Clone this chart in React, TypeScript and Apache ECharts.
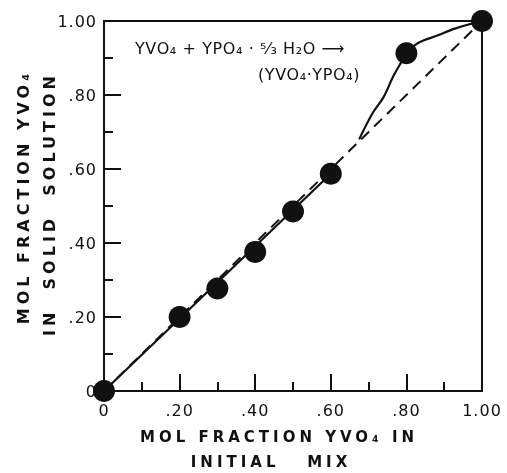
import React, { useEffect, useRef } from 'react';
import * as echarts from 'echarts';

// tick values and labels (both axes)
const tickValues = [0, 0.2, 0.4, 0.6, 0.8, 1.0];
const tickLabels = ['0', '.20', '.40', '.60', '.80', '1.00'];

// measured points: mol fraction in initial mix vs. in solid solution
const pointX = [0, 0.2, 0.3, 0.4, 0.5, 0.6, 0.8, 1.0];
const pointY = [0, 0.2, 0.277, 0.376, 0.485, 0.587, 0.913, 1.0];

// solid curve (lower straight part and upper bend)
const lowerLineX = [0, 0.6];
const lowerLineY = [0, 0.587];
const curveX = [0.675, 0.71, 0.74, 0.765, 0.79, 0.8, 0.83, 0.88, 0.93, 1.0];
const curveY = [0.68, 0.75, 0.795, 0.85, 0.895, 0.913, 0.94, 0.96, 0.98, 1.0];

// ideal (dashed) line
const idealX = [0, 1];
const idealY = [0, 1];

// texts
const yTitleLines = ['MOL FRACTION YVO₄', 'IN  SOLID  SOLUTION'];
const xTitleLines = ['MOL FRACTION YVO₄ IN', 'INITIAL   MIX'];
const annoLines = ['YVO₄ + YPO₄ · ⁵⁄₃ H₂O ⟶', '(YVO₄·YPO₄)'];

const zip = (xs: number[], ys: number[]) => xs.map((x, i) => [x, ys[i]]);

const fmt = (v: number) => {
  const i = tickValues.findIndex((t) => Math.abs(t - v) < 1e-6);
  return i >= 0 ? tickLabels[i] : '';
};

const INK = '#111';

export default function App() {
  const ref = useRef<HTMLDivElement>(null);

  useEffect(() => {
    const el = ref.current;
    if (!el) return;
    const chart = echarts.init(el, undefined, { renderer: 'svg' });
    const font = "'DejaVu Sans'";
    const mainAxis = (margin: number) => ({
      type: 'value' as const,
      min: 0,
      max: 1,
      interval: 0.2,
      axisLine: { show: true, lineStyle: { color: INK, width: 2 } },
      axisTick: { show: true, inside: true, length: 17, lineStyle: { color: INK, width: 2 } },
      minorTick: { show: true, splitNumber: 2, length: 9, lineStyle: { color: INK, width: 2 } },
      splitLine: { show: false },
      axisLabel: { formatter: fmt, color: INK, fontFamily: font, fontSize: 16, margin },
    });
    const text = (
      t: string,
      x: number,
      y: number,
      f: string,
      align: string,
      rotation = 0
    ) => ({
      type: 'text',
      x,
      y,
      rotation,
      style: { text: t, font: f, fill: INK, textAlign: align, textVerticalAlign: 'middle' },
    });
    chart.setOption({
      animation: false,
      grid: {
        left: 104,
        right: 25,
        top: 21,
        bottom: 82,
        show: true,
        borderColor: INK,
        borderWidth: 2,
      },
      xAxis: mainAxis(11),
      yAxis: mainAxis(7),
      series: [
        {
          type: 'line',
          data: zip(idealX, idealY),
          symbol: 'none',
          lineStyle: { color: INK, width: 2, type: [11, 7] },
          z: 2,
        },
        {
          type: 'line',
          data: zip(lowerLineX, lowerLineY),
          symbol: 'none',
          lineStyle: { color: INK, width: 2.2 },
          z: 3,
        },
        {
          type: 'line',
          data: zip(curveX, curveY),
          symbol: 'none',
          smooth: 0.35,
          lineStyle: { color: INK, width: 2.2 },
          z: 3,
        },
        {
          type: 'scatter',
          data: zip(pointX, pointY),
          symbol: 'circle',
          symbolSize: 22,
          clip: false,
          itemStyle: { color: INK, opacity: 1 },
          z: 4,
        },
      ],
      graphic: [
        text(yTitleLines[0], 23, 197, `bold 16px ${font}`, 'center', Math.PI / 2),
        text(yTitleLines[1], 49, 204, `bold 16px ${font}`, 'center', Math.PI / 2),
        text(xTitleLines[0], 279, 437, `bold 15px ${font}`, 'center'),
        text(xTitleLines[1], 271, 462, `bold 15px ${font}`, 'center'),
        text(annoLines[0], 135, 48, `16px ${font}`, 'left'),
        text(annoLines[1], 258, 74, `16px ${font}`, 'left'),
      ],
    });

    // widen the lettering of the hand-lettered texts
    const applySpacing = () => {
      el.querySelectorAll('text').forEach((t) => {
        const s = t.textContent || '';
        if (yTitleLines.includes(s) || xTitleLines.includes(s)) t.setAttribute('letter-spacing', '4');
        else if (annoLines.includes(s)) t.setAttribute('letter-spacing', '0.6');
        else if (tickLabels.includes(s)) t.setAttribute('letter-spacing', '1');
      });
    };
    chart.on('finished', applySpacing);
    applySpacing();
    const timer = window.setTimeout(applySpacing, 30);

    return () => {
      window.clearTimeout(timer);
      chart.dispose();
    };
  }, []);

  return <div ref={ref} style={{ position: 'fixed', left: 0, top: 0, width: 507, height: 473 }} />;
}
